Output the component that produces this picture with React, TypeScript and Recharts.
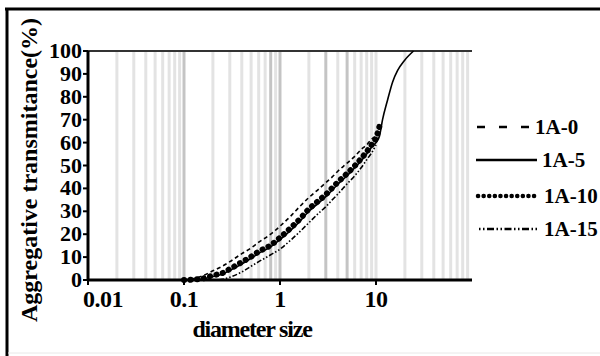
import { LineChart, Line, XAxis, YAxis, ReferenceLine, Label } from 'recharts'

const xTicks = [0.01, 0.1, 1, 10]
const yTicks = [0, 10, 20, 30, 40, 50, 60, 70, 80, 90, 100]
const gridLines = [
  0.02, 0.03, 0.04, 0.05, 0.06, 0.07, 0.08, 0.09, 0.1,
  0.2, 0.3, 0.4, 0.5, 0.6, 0.7, 0.8, 0.9, 1,
  2, 3, 4, 5, 6, 7, 8, 9, 10,
  20, 30, 40, 50, 60, 70, 80, 90,
]
const darkGrid = [0.1, 0.8, 1, 3, 5]

// diameters shared by the band curves
const dBand = [0.1, 0.15, 0.2, 0.25, 0.3, 0.4, 0.5, 0.6, 0.8, 1, 1.3, 1.6, 2, 2.5, 3, 3.5, 4, 5, 6, 7, 8, 9, 10]

const v1A0 = [0, 1.5, 4, 6, 8, 11.5, 14, 16.5, 20, 23.5, 28, 32, 36, 39.5, 42.5, 45, 47.5, 51, 54, 57, 59, 61.5, 63]
const v1A15 = [0, 0, 0, 0.3, 1.2, 3.5, 6, 8, 11, 13.5, 17.5, 21, 25, 29, 32, 35, 37.5, 42, 45.5, 49, 52.5, 55.5, 59]

const d1A10 = [...dBand, 11]
const v1A10 = [0, 0.5, 2, 3, 4.8, 7.8, 10.2, 12.4, 15.2, 18.5, 22.8, 26.5, 31, 34.5, 37.3, 40.2, 42.7, 46.5, 49.8, 53, 56, 59, 62, 68]

const d1A5 = [...dBand, 10.9, 11.7, 13.2, 14.9, 16.8, 19.9, 24.6]
const v1A5 = [0, 0.3, 1.5, 2.5, 4.2, 7, 9.5, 11.6, 14.5, 17.6, 21.8, 25.5, 30, 33.5, 36.4, 39.2, 41.8, 45.5, 49, 52, 55, 58, 60, 63, 70, 78.6, 86.5, 91.5, 96, 100]

const pts = (d: number[], v: number[]) => d.map((x, i) => ({ d: x, v: v[i] }))

const serif = { fontFamily: "'Liberation Serif', 'Times New Roman', serif", fontWeight: 'bold' as const }

function XTick(props: any) {
  const { x, y, payload } = props
  const first = payload.value === 0.01
  return (
    <text x={first ? x - 5 : x} y={y + 20} textAnchor={first ? 'start' : 'middle'} style={{ ...serif, fontSize: 24, letterSpacing: -0.5 }} fill="#000">
      {payload.value}
    </text>
  )
}

function YTick(props: any) {
  const { x, y, payload } = props
  return (
    <text x={x + 1} y={y + 7} textAnchor="end" style={{ ...serif, fontSize: 22 }} fill="#000">
      {payload.value}
    </text>
  )
}

const legend = [
  { name: '1A-0', y: 127, x1: 477, x2: 533, tx: 535, dash: '8 14', w: 2.5, cap: 'butt' },
  { name: '1A-5', y: 160, x1: 476, x2: 537, tx: 542, dash: undefined, w: 2.5, cap: 'butt' },
  { name: '1A-10', y: 196, x1: 478, x2: 537, tx: 544, dash: '0.1 5.5', w: 4.5, cap: 'round' },
  { name: '1A-15', y: 229, x1: 479, x2: 538, tx: 544, dash: '1.5 2.5 1.5 2.5 7 2.5', w: 2.5, cap: 'butt' },
]

export default function App() {
  return (
    <div style={{ position: 'relative', width: 600, height: 356, background: '#fff', overflow: 'hidden' }}>
      <style>{'body{margin:0}'}</style>
      <LineChart width={600} height={356} margin={{ top: 51, right: 128, left: 0, bottom: 0 }}>
        {gridLines.map((g) => (
          <ReferenceLine key={g} x={g} stroke={darkGrid.includes(g) ? '#c4c4c4' : '#e3e3e3'} strokeWidth={3} ifOverflow="hidden" />
        ))}
        <ReferenceLine y={100} stroke="#333" strokeWidth={2} />
        <XAxis
          dataKey="d"
          type="number"
          scale="log"
          domain={[0.01, 100]}
          allowDataOverflow
          ticks={xTicks}
          height={76}
          axisLine={{ stroke: '#000', strokeWidth: 3 }}
          tickLine={{ stroke: '#000', strokeWidth: 2 }}
          tickSize={5}
          tick={<XTick />}
        >
          <Label
            content={() => (
              <text x={252} y={337} textAnchor="middle" style={{ ...serif, fontSize: 24, letterSpacing: -1.2 }} fill="#000">
                diameter size
              </text>
            )}
          />
        </XAxis>
        <YAxis
          type="number"
          domain={[0, 100]}
          ticks={yTicks}
          width={88}
          interval={0}
          axisLine={{ stroke: '#000', strokeWidth: 3 }}
          tickLine={{ stroke: '#000', strokeWidth: 2 }}
          tickSize={5}
          tick={<YTick />}
        >
          <Label
            content={() => (
              <text x={37} y={170} transform="rotate(-90, 37, 170)" textAnchor="middle" style={{ ...serif, fontSize: 24 }} fill="#000">
                Aggregative transmitance(%)
              </text>
            )}
          />
        </YAxis>
        <Line data={pts(dBand, v1A0)} dataKey="v" type="monotone" stroke="#000" strokeWidth={1.6} strokeDasharray="4 3" dot={false} isAnimationActive={false} />
        <Line data={pts(dBand, v1A15)} dataKey="v" type="monotone" stroke="#000" strokeWidth={1.6} strokeDasharray="1.5 2 1.5 2 5 2" dot={false} isAnimationActive={false} />
        <Line data={pts(d1A5, v1A5)} dataKey="v" type="monotone" stroke="#000" strokeWidth={1.6} dot={false} isAnimationActive={false} />
        <Line data={pts(d1A10, v1A10)} dataKey="v" type="monotone" stroke="#000" strokeWidth={6} strokeDasharray="0.1 6.5" strokeLinecap="round" dot={false} isAnimationActive={false} />
      </LineChart>
      <svg width={600} height={356} style={{ position: 'absolute', left: 0, top: 0, pointerEvents: 'none' }}>
        <line x1={5} y1={9} x2={600} y2={9} stroke="#000" strokeWidth={3} />
        <line x1={7} y1={8} x2={7} y2={356} stroke="#000" strokeWidth={3} />
        <line x1={8} y1={353} x2={600} y2={353} stroke="#e8e8e8" strokeWidth={1} />
        {legend.map((l) => (
          <g key={l.name}>
            <line x1={l.x1} y1={l.y} x2={l.x2} y2={l.y} stroke="#000" strokeWidth={l.w} strokeDasharray={l.dash} strokeLinecap={l.cap as any} />
            <text x={l.tx} y={l.y + 7} style={{ ...serif, fontSize: 21 }} fill="#000">
              {l.name}
            </text>
          </g>
        ))}
      </svg>
    </div>
  )
}
